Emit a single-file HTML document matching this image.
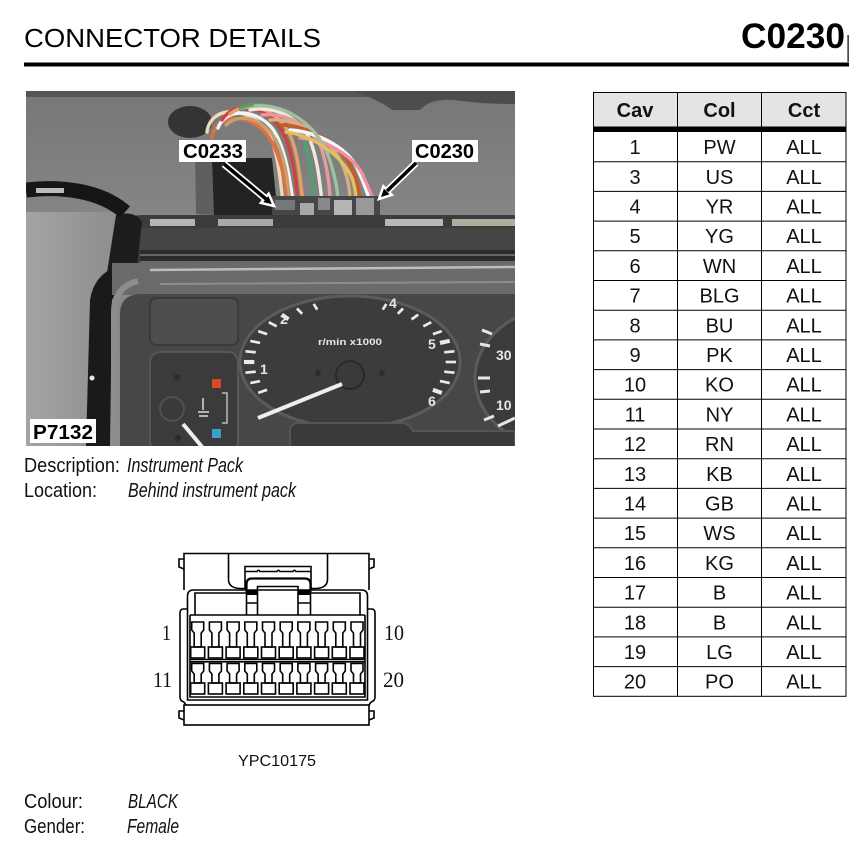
<!DOCTYPE html>
<html><head><meta charset="utf-8">
<style>
html,body{margin:0;padding:0;background:#fff;}
svg{display:block;}
.s{font-family:"Liberation Sans",Arial,sans-serif;}
.sf{font-family:"Liberation Serif","Times New Roman",serif;}
</style></head>
<body>
<svg width="863" height="846" viewBox="0 0 863 846" xmlns="http://www.w3.org/2000/svg">
<defs>
<clipPath id="pc"><rect x="26" y="91" width="489" height="355"/></clipPath>
<linearGradient id="bg" x1="0" y1="0" x2="0" y2="1">
<stop offset="0" stop-color="#777"/><stop offset="0.35" stop-color="#858585"/><stop offset="1" stop-color="#8c8c8c"/>
</linearGradient>
<linearGradient id="wall" x1="0" y1="0" x2="1" y2="0">
<stop offset="0" stop-color="#a4a4a4"/><stop offset="1" stop-color="#8e8e8e"/>
</linearGradient>
<g id="pinA" fill="none" stroke="#000" stroke-width="1.6">
<path d="M1,0 H13 V8 L10.5,11 V25 H3.5 V11 L1,8 Z"/>
<rect x="0" y="25" width="14" height="11"/>
</g>
<g id="pinB" fill="none" stroke="#000" stroke-width="1.6">
<path d="M1,0 H13 V7.5 L10.5,10.5 V19.5 H3.5 V10.5 L1,7.5 Z"/>
<rect x="0" y="19.5" width="14" height="11"/>
</g>
</defs>

<!-- HEADER -->
<text class="s" x="24" y="47" font-size="26" textLength="297" lengthAdjust="spacingAndGlyphs" fill="#000">CONNECTOR DETAILS</text>
<text class="s" x="741" y="48" font-size="35" font-weight="bold" textLength="104" lengthAdjust="spacingAndGlyphs" fill="#000">C0230</text>
<rect x="847.5" y="35" width="1.2" height="27" fill="#000"/>
<rect x="24" y="62.5" width="825" height="4" fill="#000"/>

<!-- PHOTO -->
<g clip-path="url(#pc)">
<rect x="26" y="91" width="489" height="355" fill="url(#bg)"/>
<rect x="26" y="91" width="489" height="6" fill="#555"/>
<path d="M352,91 H515 V104 Q480,104 455,100 Q430,98 420,110 H392 Q380,100 352,91 Z" fill="#4d4d4d"/>
<rect x="26" y="212" width="90" height="234" fill="url(#wall)"/>
<ellipse cx="190" cy="122" rx="22" ry="16" fill="#343434"/>
<path d="M195,150 L214,150 L216,215 L196,214 Z" fill="#5e5e5e"/>
<path d="M212,158 L272,158 L278,216 L214,216 Z" fill="#232323"/>
<!-- wires -->
<g fill="none" stroke-width="3.4" stroke-linecap="round">
<path d="M207,132 C210,108 240,105 262,125 C278,140 280,180 283,202" stroke="#f0d8b8"/>
<path d="M212,138 C215,115 245,112 265,132 C280,150 285,180 288,202" stroke="#e07040"/>
<path d="M218,128 C225,108 255,108 272,128 C285,145 290,180 293,202" stroke="#f4f4f4"/>
<path d="M222,120 C235,100 262,105 278,125 C292,142 296,180 298,202" stroke="#d04040"/>
<path d="M230,114 C248,100 272,108 286,128 C298,145 300,180 303,202" stroke="#e8a060"/>
<path d="M240,108 C262,98 290,110 300,130 C310,150 312,180 315,202" stroke="#50a070"/>
<path d="M250,110 C275,105 300,118 310,140 C318,160 320,185 322,202" stroke="#f0eadc"/>
<path d="M262,115 C290,112 315,130 322,150 C328,170 330,190 330,202" stroke="#e89aa0"/>
<path d="M270,120 C300,118 330,140 340,160 C348,175 350,190 350,202" stroke="#d8b080"/>
<path d="M280,125 C310,125 340,145 350,165 C358,180 360,195 360,202" stroke="#c85a2a"/>
<path d="M290,130 C320,132 350,150 358,170 C365,185 368,195 370,202" stroke="#f8f8f8"/>
<path d="M300,138 C330,140 358,160 364,178 C370,190 372,198 375,202" stroke="#f090a0"/>
<path d="M226,125 C240,112 262,118 276,140 C286,160 288,185 290,202" stroke="#c8a070"/>
<path d="M255,106 C285,104 312,122 326,150 C334,170 338,190 338,202" stroke="#a0c0a0"/>
<path d="M286,132 C315,136 342,156 352,178 C356,190 356,198 356,202" stroke="#e0c060"/>
</g>
<rect x="272" y="196" width="108" height="32" fill="#474747"/>
<rect x="275" y="200" width="20" height="10" fill="#777"/>
<rect x="300" y="203" width="14" height="20" fill="#a8a8a8"/>
<rect x="318" y="198" width="12" height="12" fill="#888"/>
<rect x="334" y="200" width="18" height="22" fill="#b5b5b5"/>
<rect x="356" y="198" width="18" height="20" fill="#999"/>
<!-- housing -->
<path d="M118,272 L125,224 Q130,215 142,215 H515 V276 H118 Z" fill="#3c3c3c"/>
<rect x="150" y="219" width="45" height="7" fill="#b5b5b5"/>
<rect x="218" y="219" width="55" height="7" fill="#a8a8a8"/>
<rect x="385" y="219" width="58" height="7" fill="#b8b8b8"/>
<rect x="452" y="219" width="63" height="7" fill="#b0ad9c"/>
<rect x="140" y="228" width="375" height="22" fill="#454545"/>
<rect x="140" y="250" width="375" height="4" fill="#2b2b2b"/>
<rect x="140" y="254" width="375" height="2" fill="#666"/>
<rect x="140" y="256" width="375" height="5" fill="#2b2b2b"/>
<rect x="140" y="261" width="375" height="2" fill="#6a6a6a"/>
<path d="M116,215 Q135,210 142,222 L134,292 L104,292 Z" fill="#1c1c1c"/>
<path d="M26,190 C60,186 100,190 125,212" stroke="#161616" stroke-width="15" fill="none"/>
<rect x="36" y="188" width="28" height="5" fill="#bdbdbd"/>
<path d="M86,446 L90,300 Q94,274 118,266 L130,270 L112,300 L110,446 Z" fill="#1a1a1a"/>
<!-- lens -->
<rect x="112" y="263" width="403" height="32" fill="#6a6a6a"/>
<line x1="150" y1="270" x2="515" y2="267" stroke="#bcbcbc" stroke-width="2.5"/>
<line x1="160" y1="284" x2="515" y2="282" stroke="#8c8c8c" stroke-width="2"/>
<path d="M114,446 V312 Q114,287 138,281" stroke="#8d8d8d" stroke-width="6" fill="none"/>
<!-- face -->
<path d="M120,446 V314 Q120,294 142,294 H515 V446 Z" fill="#474747"/>
<rect x="150" y="298" width="88" height="47" rx="6" fill="#4e4e4e" stroke="#3a3a3a" stroke-width="2"/>
<rect x="150" y="352" width="88" height="100" rx="10" fill="#3b3b3b" stroke="#575757" stroke-width="2"/>
<ellipse cx="565" cy="378" rx="90" ry="72" fill="#3b3b3b" stroke="#5b5b5b" stroke-width="3"/>
<ellipse cx="350" cy="362" rx="110" ry="66" fill="#3c3c3c" stroke="#5b5b5b" stroke-width="3"/>
<path d="M290,448 V431 Q290,423 300,423 H402 Q409,423 413,431 H515 V448 Z" fill="#3a3a3a" stroke="#555" stroke-width="2"/>
<!-- tach ticks -->
<g stroke="#eaeaea" stroke-width="2.6" transform="translate(350,362) scale(1.04,1.03) translate(-350,-362)">
<line x1="315.1" y1="305.6" x2="318.5" y2="311.2"/>
<line x1="299" y1="310" x2="304" y2="315.2"/>
<line x1="284.4" y1="316" x2="290.8" y2="320.6" stroke-width="4"/>
<line x1="271.9" y1="323.4" x2="279.5" y2="327.3"/>
<line x1="261.7" y1="332" x2="270.3" y2="335"/>
<line x1="254.1" y1="341.5" x2="263.5" y2="343.5"/>
<line x1="249.5" y1="351.6" x2="259.4" y2="352.6"/>
<line x1="248" y1="362" x2="258" y2="362" stroke-width="4"/>
<line x1="249.5" y1="372.4" x2="259.4" y2="371.4"/>
<line x1="254.1" y1="382.5" x2="263.5" y2="380.5"/>
<line x1="261.7" y1="392" x2="270.3" y2="389"/>
<line x1="384.9" y1="305.6" x2="381.5" y2="311.2"/>
<line x1="401" y1="310" x2="396" y2="315.2"/>
<line x1="415.6" y1="316" x2="409.2" y2="320.6"/>
<line x1="428.1" y1="323.4" x2="420.5" y2="327.3"/>
<line x1="438.3" y1="332" x2="429.7" y2="335"/>
<line x1="445.9" y1="341.5" x2="436.5" y2="343.5" stroke-width="4"/>
<line x1="450.5" y1="351.6" x2="440.6" y2="352.6"/>
<line x1="452" y1="362" x2="442" y2="362"/>
<line x1="450.5" y1="372.4" x2="440.6" y2="371.4"/>
<line x1="445.9" y1="382.5" x2="436.5" y2="380.5"/>
<line x1="438.3" y1="392" x2="429.7" y2="389" stroke-width="4"/>
</g>
<g class="s" fill="#e6e6e6" font-weight="bold" font-size="14">
<text x="280" y="324">2</text>
<text x="389" y="308">4</text>
<text x="428" y="349">5</text>
<text x="428" y="406">6</text>
<text x="260" y="374">1</text>
<text x="496" y="360">30</text>
<text x="496" y="410">10</text>
</g>
<text class="s" x="318" y="345" font-size="9" font-weight="bold" fill="#e6e6e6" textLength="64" lengthAdjust="spacingAndGlyphs">r/min x1000</text>
<circle cx="318" cy="373" r="3" fill="#2c2c2c"/>
<circle cx="382" cy="373" r="3" fill="#2c2c2c"/>
<circle cx="350" cy="375" r="14" fill="#3a3a3a" stroke="#2a2a2a" stroke-width="2"/>
<line x1="342" y1="384" x2="258" y2="418" stroke="#eeeeee" stroke-width="4"/>
<g stroke="#e6e6e6" stroke-width="3">
<line x1="482" y1="330" x2="492" y2="334"/>
<line x1="480" y1="344" x2="490" y2="346"/>
<line x1="478" y1="378" x2="490" y2="378"/>
<line x1="480" y1="392" x2="490" y2="391"/>
<line x1="484" y1="420" x2="494" y2="416"/>
</g>
<line x1="498" y1="426" x2="515" y2="418" stroke="#e6e6e6" stroke-width="3"/>
<!-- left gauge -->
<circle cx="177" cy="377" r="3" fill="#2a2a2a"/>
<circle cx="178" cy="438" r="3" fill="#2a2a2a"/>
<circle cx="172" cy="409" r="12" fill="#3a3a3a" stroke="#505050" stroke-width="2"/>
<rect x="212" y="379" width="9" height="9" fill="#d94a2a"/>
<rect x="212" y="429" width="9" height="9" fill="#3aa0d0"/>
<path d="M222,393 H227 V423 H222" stroke="#bbb" stroke-width="1.5" fill="none"/>
<path d="M203,398 V410 M198,412 H209 M199,416 H208" stroke="#ddd" stroke-width="1.5" fill="none"/>
<line x1="183" y1="424" x2="203" y2="448" stroke="#eeeeee" stroke-width="4"/>
<circle cx="92" cy="378" r="2.5" fill="#e8e8e8"/>
<!-- arrows -->
<g>
<line x1="224" y1="164" x2="266" y2="199" stroke="#fff" stroke-width="7"/>
<polygon points="274,206 260.9,202.9 268.7,193.7" fill="#000" stroke="#fff" stroke-width="2.5"/>
<line x1="224" y1="164" x2="266" y2="199" stroke="#000" stroke-width="3.5"/>
<line x1="416" y1="163" x2="387" y2="191" stroke="#fff" stroke-width="7"/>
<polygon points="379,199 383.4,186.3 391.8,194.9" fill="#000" stroke="#fff" stroke-width="2.5"/>
<line x1="416" y1="163" x2="387" y2="191" stroke="#000" stroke-width="3.5"/>
</g>
<rect x="179" y="140" width="67" height="22" fill="#fff"/>
<text class="s" x="183" y="158" font-size="20" font-weight="bold" textLength="60" lengthAdjust="spacingAndGlyphs" fill="#000">C0233</text>
<rect x="412" y="140" width="66" height="22" fill="#fff"/>
<text class="s" x="415" y="158" font-size="20" font-weight="bold" textLength="59" lengthAdjust="spacingAndGlyphs" fill="#000">C0230</text>
<rect x="30" y="419" width="66" height="24" fill="#fff"/>
<text class="s" x="33" y="439" font-size="20" font-weight="bold" textLength="60" lengthAdjust="spacingAndGlyphs" fill="#000">P7132</text>
</g>

<!-- DESCRIPTION -->
<g class="s" fill="#111" font-size="20">
<text x="24" y="472" textLength="96" lengthAdjust="spacingAndGlyphs">Description:</text>
<text x="127" y="472" font-style="italic" textLength="116" lengthAdjust="spacingAndGlyphs">Instrument Pack</text>
<text x="24" y="497" textLength="73" lengthAdjust="spacingAndGlyphs">Location:</text>
<text x="128" y="497" font-style="italic" textLength="168" lengthAdjust="spacingAndGlyphs">Behind instrument pack</text>
<text x="24" y="808" textLength="59" lengthAdjust="spacingAndGlyphs">Colour:</text>
<text x="128" y="808" font-style="italic" textLength="50" lengthAdjust="spacingAndGlyphs">BLACK</text>
<text x="24" y="833" textLength="61" lengthAdjust="spacingAndGlyphs">Gender:</text>
<text x="127" y="833" font-style="italic" textLength="52" lengthAdjust="spacingAndGlyphs">Female</text>
</g>

<!-- CONNECTOR DRAWING -->
<g fill="none" stroke="#000" stroke-width="1.6">
<path d="M184,590 V553.5 H369 V590"/>
<path d="M184,559 H179 V567 L184,569"/>
<path d="M369,559 H374 V567 L369,569"/>
<path d="M228.5,553.5 V580 Q229,588 240,588.5 H246"/>
<path d="M327.5,553.5 V580 Q327,588 316,588.5 H310"/>
<path d="M245,588 V566.5 H311 V588"/>
<path d="M245,571.5 H257 q1.5,-2.5 3,0 H277 q1.5,-2.5 3,0 H293 q1.5,-2.5 3,0 H311"/>
<path d="M246.5,592 V584 Q246.5,578.5 252,578.5 H304.5 Q310.5,578.5 310.5,584 V592" stroke-width="2.2"/>
<path d="M257.5,615 V586.5 H298 V615"/>
<path d="M246.5,592 V615 M310.5,592 V615"/>
<path d="M246.5,603 H257.5 M298,603 H310.5"/>
<path d="M187.5,700 V596 Q187.5,590 193.5,590 H361.5 Q367.5,590 367.5,596 V700 Z"/>
<path d="M195,615 V593 H246.5 M310.5,593 H360 V615"/>
<path d="M190,615 H365"/>
<path d="M190,615 V697 H365 V615"/>
<path d="M187.5,609 H183.5 Q180,609 180,613 V697 Q180,701 184,702"/>
<path d="M367.5,609 H371.5 Q375,609 375,613 V697 Q375,701 371,702"/>
<path d="M184,702 L186,705 M371,702 L369,705"/>
<rect x="184" y="705" width="185" height="20"/>
<path d="M184,711 H179 V718 L184,720"/>
<path d="M369,711 H374 V718 L369,720"/>
<path d="M190,659.5 H365 M190,661.8 H365"/>
</g>
<rect x="246.5" y="590" width="11" height="5" fill="#000"/>
<rect x="298" y="590" width="12.5" height="5" fill="#000"/>
<g>
<use href="#pinA" x="190.7" y="622"/><use href="#pinA" x="208.4" y="622"/><use href="#pinA" x="226.1" y="622"/><use href="#pinA" x="243.8" y="622"/><use href="#pinA" x="261.5" y="622"/>
<use href="#pinA" x="279.2" y="622"/><use href="#pinA" x="296.9" y="622"/><use href="#pinA" x="314.6" y="622"/><use href="#pinA" x="332.3" y="622"/><use href="#pinA" x="350.0" y="622"/>
<use href="#pinB" x="190.7" y="663.5"/><use href="#pinB" x="208.4" y="663.5"/><use href="#pinB" x="226.1" y="663.5"/><use href="#pinB" x="243.8" y="663.5"/><use href="#pinB" x="261.5" y="663.5"/>
<use href="#pinB" x="279.2" y="663.5"/><use href="#pinB" x="296.9" y="663.5"/><use href="#pinB" x="314.6" y="663.5"/><use href="#pinB" x="332.3" y="663.5"/><use href="#pinB" x="350.0" y="663.5"/>
</g>
<g class="sf" font-size="22" fill="#111">
<text x="162" y="640" textLength="9" lengthAdjust="spacingAndGlyphs">1</text>
<text x="384" y="640" textLength="20" lengthAdjust="spacingAndGlyphs">10</text>
<text x="153" y="687" textLength="19" lengthAdjust="spacingAndGlyphs">11</text>
<text x="383" y="687" textLength="21" lengthAdjust="spacingAndGlyphs">20</text>
</g>
<text class="s" x="238" y="766" font-size="16" textLength="78" lengthAdjust="spacingAndGlyphs" fill="#111">YPC10175</text>

<!-- TABLE -->
<rect x="593" y="92" width="253" height="35" fill="#e4e4e4"/>
<rect x="593" y="126.5" width="253" height="5.5" fill="#000"/>
<g stroke="#000" stroke-width="1" fill="none">
<rect x="593.5" y="92.5" width="252.5" height="603.8"/>
<line x1="677.5" y1="92" x2="677.5" y2="696.3"/>
<line x1="761.5" y1="92" x2="761.5" y2="696.3"/>
<path d="M593,161.7 H846 M593,191.4 H846 M593,221.1 H846 M593,250.8 H846 M593,280.5 H846 M593,310.2 H846 M593,339.9 H846 M593,369.6 H846 M593,399.3 H846 M593,429 H846 M593,458.7 H846 M593,488.4 H846 M593,518.1 H846 M593,547.8 H846 M593,577.5 H846 M593,607.2 H846 M593,636.9 H846 M593,666.6 H846"/>
</g>
<g class="s" font-size="20" fill="#111" text-anchor="middle">
<text x="635" y="117" font-weight="bold">Cav</text><text x="719.5" y="117" font-weight="bold">Col</text><text x="804" y="117" font-weight="bold">Cct</text>
<text x="635" y="154.1">1</text><text x="719.5" y="154.1">PW</text><text x="804" y="154.1">ALL</text>
<text x="635" y="183.8">3</text><text x="719.5" y="183.8">US</text><text x="804" y="183.8">ALL</text>
<text x="635" y="213.5">4</text><text x="719.5" y="213.5">YR</text><text x="804" y="213.5">ALL</text>
<text x="635" y="243.2">5</text><text x="719.5" y="243.2">YG</text><text x="804" y="243.2">ALL</text>
<text x="635" y="272.9">6</text><text x="719.5" y="272.9">WN</text><text x="804" y="272.9">ALL</text>
<text x="635" y="302.6">7</text><text x="719.5" y="302.6">BLG</text><text x="804" y="302.6">ALL</text>
<text x="635" y="332.3">8</text><text x="719.5" y="332.3">BU</text><text x="804" y="332.3">ALL</text>
<text x="635" y="362">9</text><text x="719.5" y="362">PK</text><text x="804" y="362">ALL</text>
<text x="635" y="391.7">10</text><text x="719.5" y="391.7">KO</text><text x="804" y="391.7">ALL</text>
<text x="635" y="421.4">11</text><text x="719.5" y="421.4">NY</text><text x="804" y="421.4">ALL</text>
<text x="635" y="451.1">12</text><text x="719.5" y="451.1">RN</text><text x="804" y="451.1">ALL</text>
<text x="635" y="480.8">13</text><text x="719.5" y="480.8">KB</text><text x="804" y="480.8">ALL</text>
<text x="635" y="510.5">14</text><text x="719.5" y="510.5">GB</text><text x="804" y="510.5">ALL</text>
<text x="635" y="540.2">15</text><text x="719.5" y="540.2">WS</text><text x="804" y="540.2">ALL</text>
<text x="635" y="569.9">16</text><text x="719.5" y="569.9">KG</text><text x="804" y="569.9">ALL</text>
<text x="635" y="599.6">17</text><text x="719.5" y="599.6">B</text><text x="804" y="599.6">ALL</text>
<text x="635" y="629.3">18</text><text x="719.5" y="629.3">B</text><text x="804" y="629.3">ALL</text>
<text x="635" y="659">19</text><text x="719.5" y="659">LG</text><text x="804" y="659">ALL</text>
<text x="635" y="688.7">20</text><text x="719.5" y="688.7">PO</text><text x="804" y="688.7">ALL</text>
</g>
</svg>
</body></html>
